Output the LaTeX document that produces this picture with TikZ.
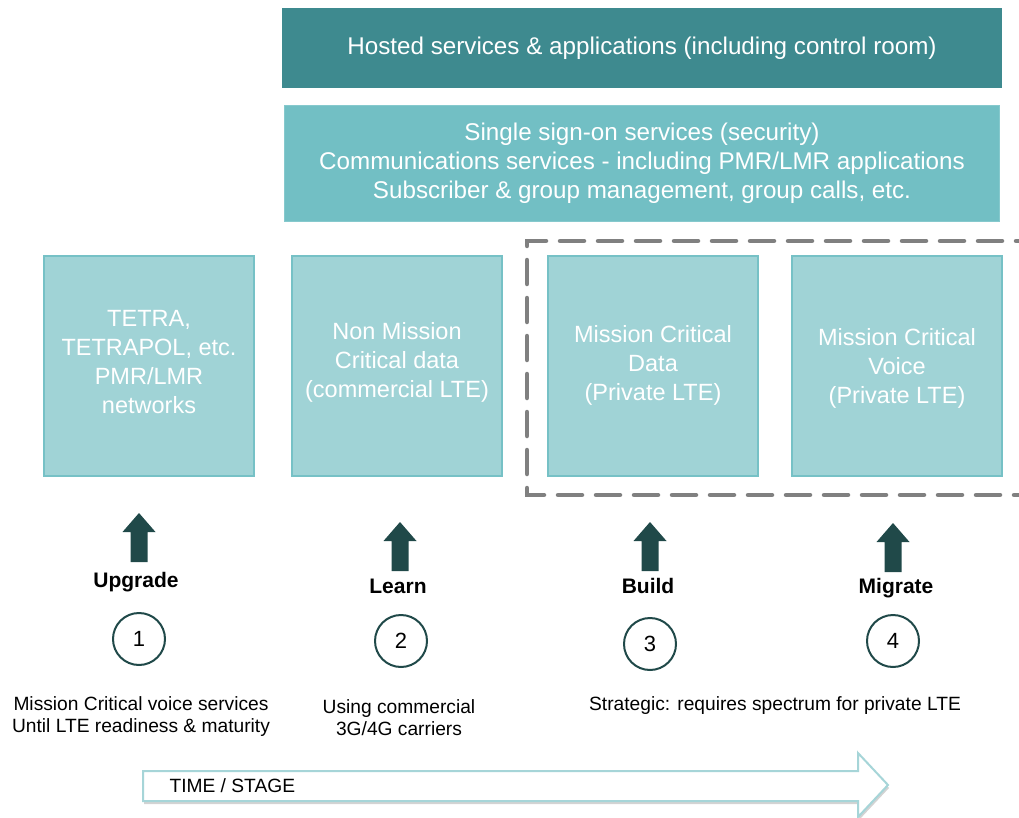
\documentclass[tikz,border=0pt]{standalone}
\usepackage{fontspec}
\setmainfont{Liberation Sans}
\usetikzlibrary{shadows}
\definecolor{hostedteal}{HTML}{3E8A8F}
\definecolor{serviceteal}{HTML}{72BFC4}
\definecolor{serviceedge}{HTML}{86C9CD}
\definecolor{boxfill}{HTML}{A0D3D6}
\definecolor{boxedge}{HTML}{76C1C6}
\definecolor{arrowdark}{HTML}{204949}
\definecolor{dashgray}{HTML}{808080}
\definecolor{timeedge}{HTML}{A6D5D8}
\tikzset{
  topbox/.style={fill=#1, text=white, align=center, inner sep=0pt,
    font=\fontsize{24.2}{29}\selectfont},
  colbox/.style={draw=boxedge, line width=2pt, fill=boxfill, text=white,
    align=center, inner sep=0pt, minimum width=210pt, minimum height=220pt,
    font=\fontsize{23.5}{29}\selectfont},
  boxtext/.style={text=white, align=center, font=\fontsize{23.5}{29}\selectfont},
  stagelabel/.style={font=\bfseries\fontsize{21}{25}\selectfont},
  stagenum/.style={circle, draw=arrowdark, line width=2pt, fill=white,
    minimum size=52pt, inner sep=0pt, font=\fontsize{22}{26}\selectfont},
  note/.style={align=center, font=\fontsize{19.2}{22}\selectfont},
  stagearrow/.pic={
    \fill[arrowdark] (-8.5,49) -- (-8.5,19) -- (-16.5,19) -- (0,0)
      -- (16.5,19) -- (8.5,19) -- (8.5,49) -- cycle;
  }
}
\begin{document}
\begin{tikzpicture}[x=1pt,y=-1pt]
\useasboundingbox (0,0) rectangle (1019,818);
\clip (0,0) rectangle (1019,818);

% service layers
\node[topbox=hostedteal, minimum width=720pt, minimum height=80pt] (hosted) at (642,48)
  {Hosted services \& applications (including control room)};
\node[topbox=serviceteal, draw=serviceedge, line width=1pt, minimum width=715pt, minimum height=116pt] (services) at (642,163.5)
  {Single sign-on services (security)\\Communications services - including PMR/LMR applications\\Subscriber \& group management, group calls, etc.};

% private LTE group
\draw[dashgray, line width=4.5pt, line cap=round, dash pattern=on 24pt off 14pt]
  (1040,241) -- (527,241) -- (527,495) -- (1040,495);

% networks
\node[colbox] (tetra) at (149,366) {};
\node[colbox] (nonmc) at (397,366) {};
\node[colbox] (mcdata) at (653,366) {};
\node[colbox] (mcvoice) at (897,366) {};
\node[boxtext] (tetratext) at ([yshift=4pt]tetra) {TETRA,\\TETRAPOL, etc.\\PMR/LMR\\networks};
\node[boxtext] (nonmctext) at ([yshift=4pt]nonmc) {Non Mission\\Critical data\\(commercial LTE)};
\node[boxtext] (mcdatatext) at ([yshift=1pt]mcdata) {Mission Critical\\Data\\(Private LTE)};
\node[boxtext] (mcvoicetext) at ([yshift=-2pt]mcvoice) {Mission Critical\\Voice\\(Private LTE)};

% stages
\pic at (139,513) {stagearrow};
\pic at (400,522) {stagearrow};
\pic at (650,522) {stagearrow};
\pic at (893,523) {stagearrow};

\node[stagelabel] (upgrade) at (136,582) {Upgrade};
\node[stagelabel] (learn) at (398,586) {Learn};
\node[stagelabel] (build) at (648,586) {Build};
\node[stagelabel] (migrate) at (896,588) {Migrate};

\node[stagenum] (one) at (139,639) {1};
\node[stagenum] (two) at (401,641) {2};
\node[stagenum] (three) at (650,644) {3};
\node[stagenum] (four) at (893,641) {4};

\node[note] (upgradenote) at (141,717) {Mission Critical voice services\\Until LTE readiness \& maturity};
\node[note] (learnnote) at (399,718) {Using commercial\\3G/4G carriers};
\node[note] (strategy) at (775,706) {Strategic: requires spectrum for private LTE};

% time line
\draw[timeedge, line width=2pt, fill=white,
  drop shadow={opacity=0.35, shadow xshift=1pt, shadow yshift=-3pt}]
  (143,771) -- (858,771) -- (858,753) -- (888,785) -- (858,817)
  -- (858,801) -- (143,801) -- cycle;
\node[note, anchor=west] (time) at (166,786) {TIME / STAGE};
\end{tikzpicture}
\end{document}
